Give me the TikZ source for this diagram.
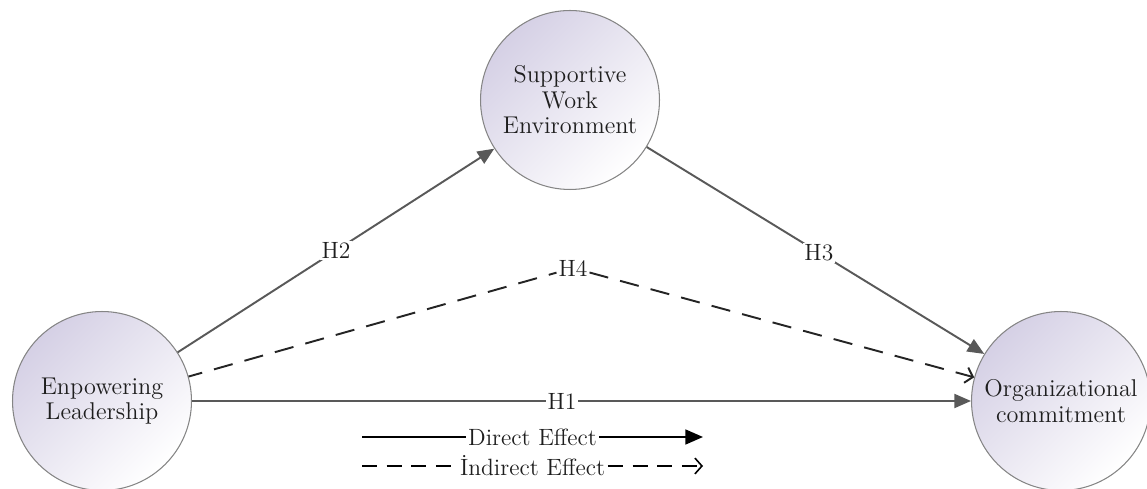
\documentclass[tikz,border=0pt]{standalone}
\usepackage{xcolor}
\usepackage{tikz}
\usetikzlibrary{positioning, arrows.meta}
\definecolor{nodeLav}{HTML}{D5D0E5}
\definecolor{nodeRim}{HTML}{858585}
\definecolor{pathGray}{HTML}{595959}
\definecolor{pathDark}{HTML}{242424}
\definecolor{textDark}{HTML}{1E1E1E}

\begin{document}
\begin{tikzpicture}[x=0.02cm, y=-0.02cm,
    construct/.style={circle, draw=nodeRim, line width=0.6pt,
      top color=nodeLav, bottom color=white, shading angle=45,
      minimum size=3.58cm, inner sep=0pt, align=center, text=textDark,
      font=\fontsize{13.8}{14.5}\selectfont},
    hlabel/.style={fill=white, inner sep=1pt, text=textDark,
      font=\fontsize{13.4}{14}\selectfont},
    direct/.style={line width=1.1pt, color=pathGray,
      -{Triangle[length=9.5pt, width=8pt]}},
    indirect/.style={line width=1.1pt, color=pathDark,
      dash pattern=on 11pt off 7pt},
    legdirect/.style={line width=0.9pt, color=black,
      -{Triangle[length=10pt, width=8.5pt]}},
    legindirect/.style={line width=0.9pt, color=black,
      dash pattern=on 8.5pt off 5.5pt, -{Straight Barb[length=4pt, width=9pt]}}]
    \useasboundingbox (0,0) rectangle (1147,489);
    % Constructs
    \node[construct] (lead) at (102,401) {Enpowering\\Leadership};
    \node[construct] (supp) at (570,100) {Supportive\\Work\\Environment};
    \node[construct] (org) at (1061,401) {Organizational\\commitment};
    % Hypothesised paths
    \draw[direct] (lead) -- node[hlabel, pos=0.5] {H2} (supp);
    \draw[direct] (supp) -- node[hlabel, pos=0.51] {H3} (org);
    \draw[direct] (lead) -- node[hlabel, pos=0.475] {H1} (org);
    % Mediated path through H4
    \node[hlabel] (hfour) at (573,268) {H4};
    \draw[indirect, dash phase=3pt] (lead) -- (hfour);
    \draw[indirect, -{Straight Barb[length=4pt, width=9pt]}] (hfour) -- (org);
    % Legend
    \coordinate (dirA) at (362,437);
    \coordinate (dirB) at (703,437);
    \draw[legdirect] (dirA) -- node[hlabel] {Direct Effect} (dirB);
    \coordinate (indA) at (362,466);
    \coordinate (indB) at (703,466);
    \draw[legindirect] (indA) -- node[hlabel] {İndirect Effect} (indB);
\end{tikzpicture}
\end{document}
